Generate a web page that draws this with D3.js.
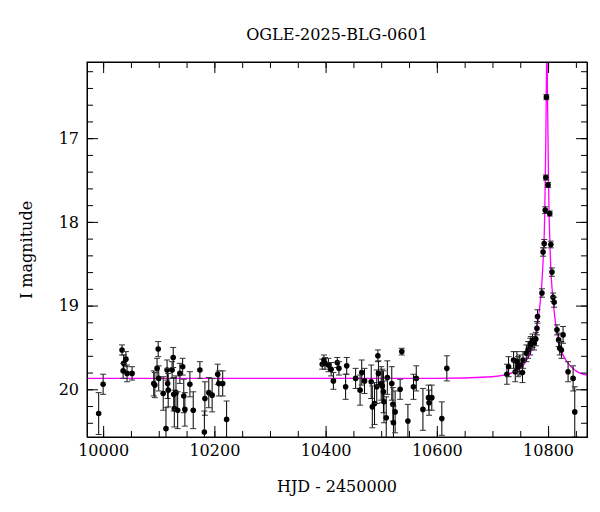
<!DOCTYPE html>
<html><head><meta charset="utf-8">
<script src="https://cdn.jsdelivr.net/npm/d3@7"></script>
<style>body{margin:0;background:#fff}text{font-family:"DejaVu Serif",serif}</style>
</head><body>
<svg id="chart" width="600" height="512"></svg>
<script>
// observations: HJD-2450000, I mag, error
var hjd = [9992,10000,10034,10037,10041,10036,10043,10052,10091,10099,10097,10100,10093,10108,10113,10115,10116,10117,10124,10126,10127,10128,10131,10134,10138,10143,10145,10147,10156,10162,10174,10183,10182,10190,10196,10206,10208,10215,10222,
  10394,10397,10399,10405,10410,10414,10421,10424,10436,10438,10454,10462,10465,10470,10482,10484,10488,10492,10494,10495,10500,10502,10504,10505,10509,10511,10519,10521,10522,10525,10534,10537,10548,10558,10563,10575,10585,10586,10591,10609,10618,
  10726,10729,10738,10741,10744,10746,10749,10754,10755,10761,10764,10768,10769,10772,10775,10778,10780,10781,10789,10791,10793,10795,10796,10797,10800,10803,10805,10807,10809,10811,10816,10819,10821,10824,10827,10836,10845,10848];
var mag = [20.29,19.94,19.53,19.69,19.64,19.78,19.81,19.81,19.93,19.52,19.75,19.87,19.95,20.05,20.47,19.77,19.93,20.01,19.77,19.62,20.06,20.23,20.04,20.25,19.81,19.73,20.08,20.24,19.94,20.25,19.77,20.11,20.51,20.04,20.07,19.82,19.93,19.93,20.36,
  19.70,19.65,19.69,19.71,19.76,19.90,19.68,19.75,19.97,19.72,19.87,20.01,19.80,19.90,19.91,20.21,20.17,19.97,19.60,19.81,19.93,19.96,20.03,20.15,20.34,19.86,19.93,20.18,20.40,20.27,20.00,19.55,20.38,19.97,19.87,20.24,20.10,20.16,20.10,20.35,19.75,
  19.82,19.73,19.65,19.79,19.67,19.73,19.71,19.80,19.65,19.57,19.53,19.49,19.45,19.42,19.45,19.40,19.27,19.13,18.85,18.36,18.26,17.86,17.47,16.51,17.56,17.90,18.27,18.60,18.90,18.96,19.29,19.41,19.51,19.53,19.35,19.79,19.87,20.27];
var err = [0.25,0.12,0.06,0.1,0.09,0.09,0.1,0.08,0.15,0.09,0.12,0.15,0.15,0.2,0.25,0.12,0.18,0.2,0.1,0.12,0.2,0.22,0.2,0.22,0.12,0.1,0.2,0.2,0.15,0.22,0.1,0.2,0.25,0.18,0.2,0.12,0.15,0.15,0.22,
  0.06,0.06,0.07,0.08,0.08,0.1,0.06,0.08,0.15,0.1,0.12,0.18,0.15,0.15,0.2,0.25,0.25,0.2,0.07,0.15,0.2,0.2,0.25,0.25,0.25,0.2,0.2,0.2,0.2,0.25,0.12,0.04,0.2,0.15,0.15,0.25,0.15,0.15,0.15,0.2,0.15,
  0.12,0.12,0.1,0.12,0.12,0.12,0.12,0.12,0.1,0.1,0.1,0.1,0.08,0.08,0.08,0.08,0.08,0.08,0.05,0.05,0.05,0.04,0.03,0.03,0.03,0.03,0.04,0.05,0.05,0.06,0.06,0.08,0.08,0.1,0.1,0.12,0.15,0.3];
// model curve
var modelT = [9971,10200,10400,10600,10700,10740,10760,10775,10785,10790,10794,10796,10797,10798,10799,10801,10804,10810,10820,10835,10850,10870];
var modelM = [19.87,19.87,19.87,19.87,19.85,19.79,19.67,19.42,19.02,18.6,17.9,17.0,16.3,15.9,16.5,17.6,18.4,19.0,19.45,19.68,19.78,19.83];
var xTicks = [10000,10200,10400,10600,10800];
var yTicks = [17,18,19,20];

var svg = d3.select("#chart");
var L = 87, R = 587, T = 62, B = 437;
var x = d3.scaleLinear().domain([9971,10870]).range([L,R]);
var y = d3.scaleLinear().domain([16.09,20.57]).range([T,B]);

svg.append("clipPath").attr("id","c").append("rect").attr("x",L).attr("y",T).attr("width",R-L).attr("height",B-T);
var plot = svg.append("g").attr("clip-path","url(#c)");

plot.append("path").datum(d3.range(modelT.length))
  .attr("fill","none").attr("stroke","#ff00ff").attr("stroke-width",1.3)
  .attr("d", d3.line().x(i => x(modelT[i])).y(i => y(modelM[i])).curve(d3.curveMonotoneX));

var pts = plot.selectAll("g.p").data(d3.range(hjd.length)).enter().append("g").attr("class","p");
pts.append("line").attr("x1",i=>x(hjd[i])).attr("x2",i=>x(hjd[i]))
  .attr("y1",i=>y(mag[i]-err[i])).attr("y2",i=>y(mag[i]+err[i])).attr("stroke","#000").attr("stroke-width",1);
[-1,1].forEach(function(s){
  pts.append("line").attr("x1",i=>x(hjd[i])-3).attr("x2",i=>x(hjd[i])+3)
    .attr("y1",i=>y(mag[i]+s*err[i])).attr("y2",i=>y(mag[i]+s*err[i])).attr("stroke","#333").attr("stroke-width",1);
});
pts.append("circle").attr("cx",i=>x(hjd[i])).attr("cy",i=>y(mag[i])).attr("r",2.8).attr("fill","#000");

// axes with inward ticks on all sides
function ax(gen, tr, major, minor, labels){
  var g = svg.append("g").attr("transform",tr);
  g.call(gen.tickValues(minor).tickSizeInner(-6).tickSizeOuter(0).tickFormat(""));
  var g2 = svg.append("g").attr("transform",tr);
  g2.call(gen.tickValues(major).tickSizeInner(-11).tickSizeOuter(0).tickPadding(labels?8:0).tickFormat(labels?d3.format("d"):""));
  [g,g2].forEach(a=>{a.selectAll("line").attr("stroke","#000");a.select(".domain").attr("stroke","#000")});
  g2.selectAll("text").attr("font-size",16).attr("fill","#000");
}
var xMinor = d3.range(10000,10870,50), yMinor = d3.range(16.2,20.57,0.2).map(v=>+v.toFixed(1));
ax(d3.axisBottom(x),`translate(0,${B})`,xTicks,xMinor,true);
ax(d3.axisTop(x),`translate(0,${T})`,xTicks,xMinor,false);
ax(d3.axisLeft(y),`translate(${L},0)`,yTicks,yMinor,true);
ax(d3.axisRight(y),`translate(${R},0)`,yTicks,yMinor,false);
svg.append("rect").attr("x",L).attr("y",T).attr("width",R-L).attr("height",B-T).attr("fill","none").attr("stroke","#000");

svg.append("text").attr("x",337).attr("y",40).attr("text-anchor","middle").attr("font-size",16).text("OGLE-2025-BLG-0601");
svg.append("text").attr("x",337).attr("y",492).attr("text-anchor","middle").attr("font-size",16).text("HJD - 2450000");
svg.append("text").attr("transform","translate(32,250) rotate(-90)").attr("text-anchor","middle").attr("font-size",16).text("I magnitude");
</script>
</body></html>
